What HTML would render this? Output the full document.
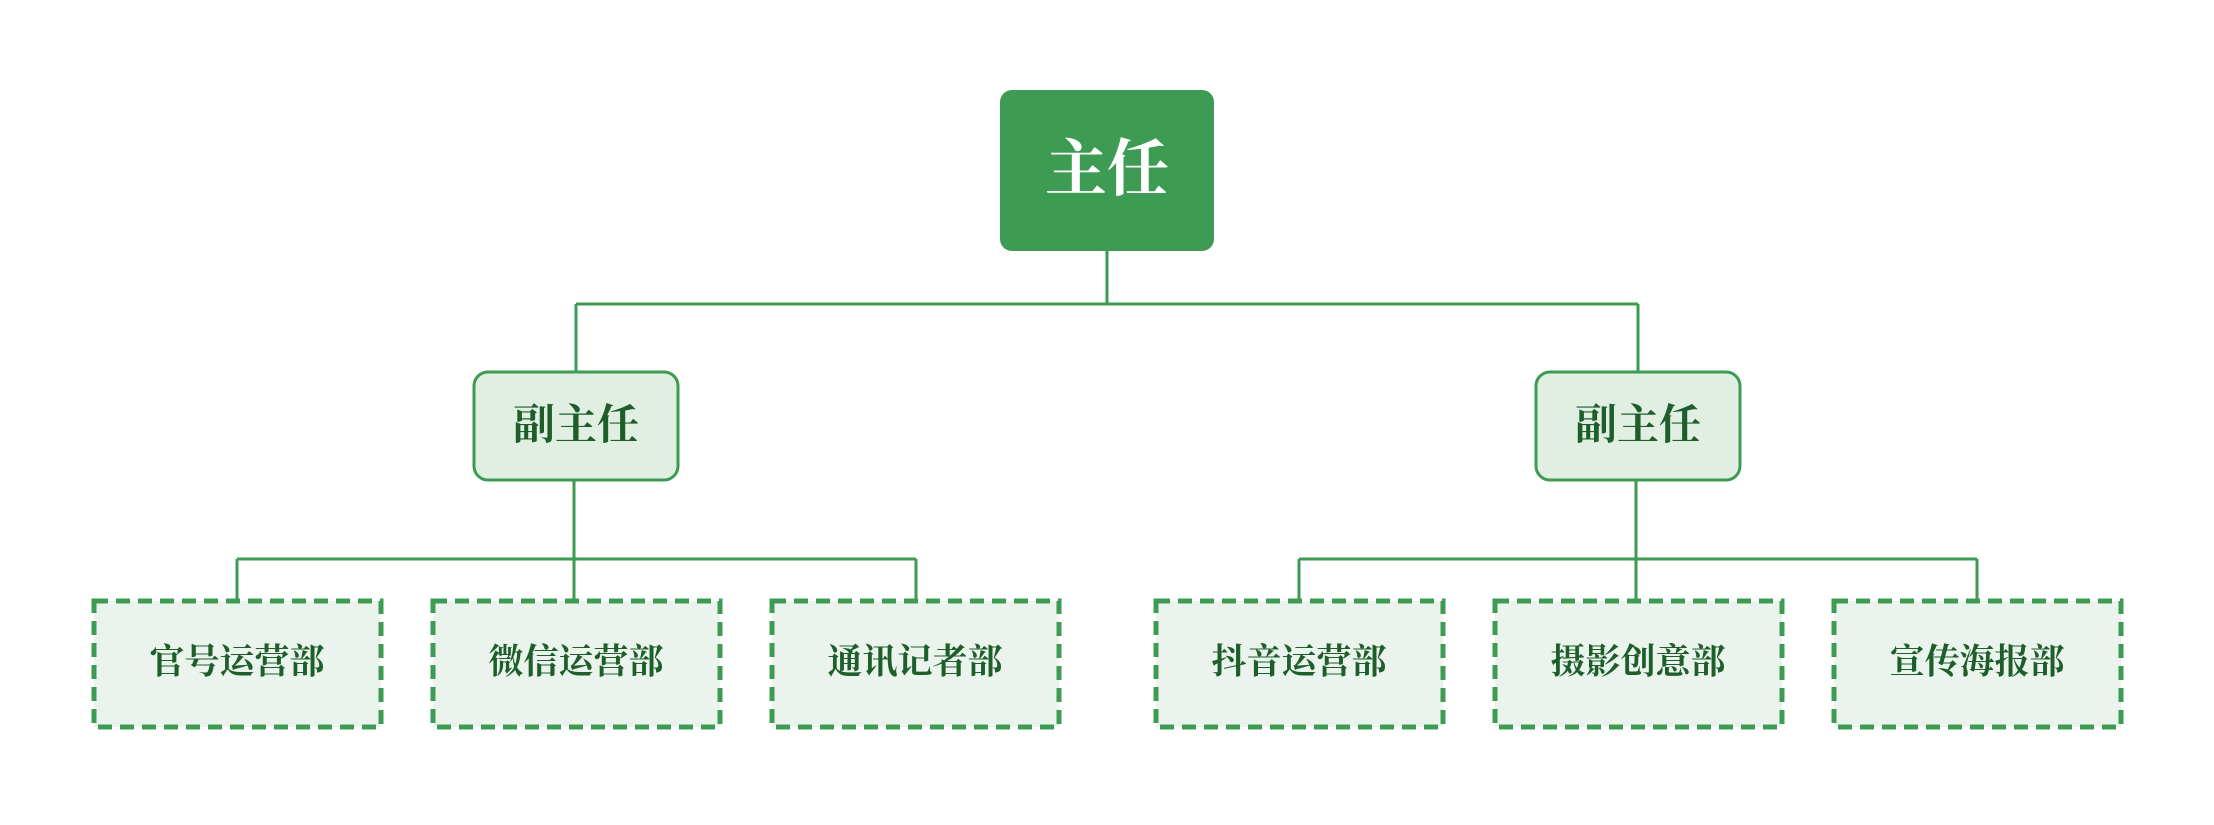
<!DOCTYPE html>
<html><head><meta charset="utf-8"><style>
html,body{margin:0;padding:0;background:#fff;}
svg{display:block}
text{font-family:"Liberation Serif","Noto Serif CJK SC",serif;font-weight:bold;text-anchor:middle;dominant-baseline:central}
</style></head><body>
<svg width="2214" height="825" viewBox="0 0 2214 825" xmlns="http://www.w3.org/2000/svg">
<g stroke="#3d9b54" stroke-width="3" fill="none">
<path d="M1107 251V304M576 304H1638M576 304V372M1638 304V372"/>
<path d="M574 480V600M237 559H916M237 559V600M916 559V600"/>
<path d="M1636 480V600M1299 559H1977M1299 559V600M1977 559V600"/>
</g>
<rect x="1000" y="90" width="214" height="161" rx="12" fill="#3d9b54"/>
<text x="1107" y="170" font-size="62" fill="#fff">主任</text>
<rect x="474" y="372" width="204" height="108" rx="14" fill="#e0efe2" stroke="#3d9b54" stroke-width="3"/>
<text x="576" y="426" font-size="42" fill="#1e5e2b">副主任</text>
<rect x="1536" y="372" width="204" height="108" rx="14" fill="#e0efe2" stroke="#3d9b54" stroke-width="3"/>
<text x="1638" y="426" font-size="42" fill="#1e5e2b">副主任</text>
<g fill="#eaf4ec" stroke="#3d9b54" stroke-width="5" stroke-dasharray="14 8">
<rect x="94" y="601" width="287" height="126"/>
<rect x="433" y="601" width="287" height="126"/>
<rect x="772" y="601" width="287" height="126"/>
<rect x="1156" y="601" width="287" height="126"/>
<rect x="1495" y="601" width="287" height="126"/>
<rect x="1834" y="601" width="287" height="126"/>
</g>
<g font-size="35" fill="#1e5e2b">
<text x="237" y="662">官号运营部</text>
<text x="576" y="662">微信运营部</text>
<text x="915" y="662">通讯记者部</text>
<text x="1299" y="662">抖音运营部</text>
<text x="1638" y="662">摄影创意部</text>
<text x="1977" y="662">宣传海报部</text>
</g>
</svg>
</body></html>
